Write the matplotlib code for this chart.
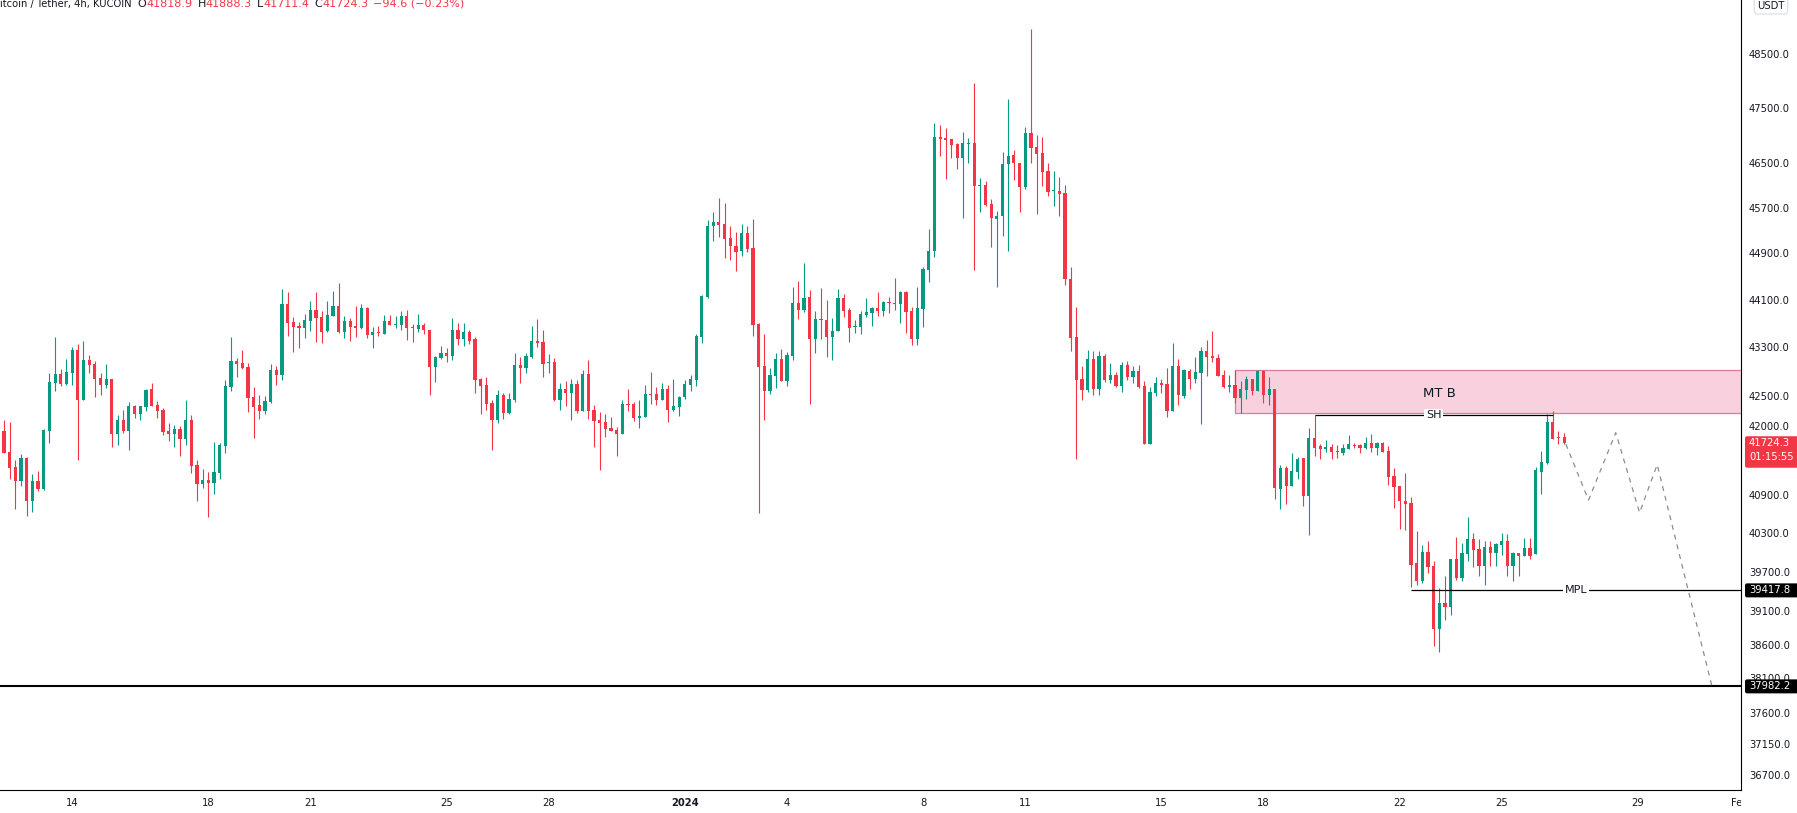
import numpy as np
import pandas as pd
import matplotlib

matplotlib.use("Agg")
import matplotlib.pyplot as plt
import matplotlib.transforms as mtransforms
from matplotlib.patches import Rectangle, FancyBboxPatch
from matplotlib.ticker import FixedLocator, FixedFormatter, NullLocator

# ── Data: BTC/USDT 4h candles (KuCoin), first bar = 2023-12-11 20:00 ──
start = pd.Timestamp("2023-12-11 20:00")

opens = [
    41732, 41921, 41581, 41341, 41123, 41486, 40802, 41118, 40993, 41921,
    42712, 42856, 42690, 42878, 43255, 42431, 43089, 43022, 42789, 42680,
    42773, 41877, 42099, 41921, 42327, 42201, 42316, 42610, 42343, 42260,
    41921, 41877, 41953, 41797, 42099, 41374, 41076, 41134, 41092, 41251,
    41683, 42640, 43072, 43039, 42972, 42476, 42343, 42249, 42399, 42922,
    42839, 44033, 43726, 43657, 43630, 43748, 43926, 43809, 43580, 43831,
    43993, 43564, 43742, 43657, 43630, 43959, 43513, 43564, 43530, 43742,
    43681, 43681, 43826, 43647, 43614, 43675, 43597, 42977, 43128, 43205,
    43155, 43597, 43447, 43564, 43447, 42773, 42674, 42376, 42099, 42510,
    42212, 42427, 43005, 42961, 43139, 43413, 43397, 43044, 43055, 42431,
    42610, 42543, 42690, 42249, 42856, 42260, 42099, 42066, 41970, 41943,
    41877, 42360, 42360, 42131, 42148, 42527, 42527, 42427, 42610, 42260,
    42310, 42476, 42674, 42756, 43474, 44151, 45378, 45449, 45414, 45171,
    45033, 44934, 45256, 44998, 43692, 42989, 42582, 42828, 43105, 42739,
    43161, 44050, 43937, 44151, 43447, 43776, 43759, 43480, 43569, 44134,
    43926, 43647, 43647, 43848, 43881, 43959, 43915, 44066, 44050, 44038,
    44238, 43915, 43447, 43948, 44622, 44945, 46974, 46944, 46926, 46837,
    46589, 46848, 46865, 46087, 46100, 45765, 45494, 45546, 46471, 46642,
    46503, 46071, 47047, 46777, 46685, 46354, 45990, 45999, 45955, 44461,
    43474, 42773, 42593, 43105, 42610, 43155, 42756, 42839, 42656, 43005,
    42806, 42905, 42656, 41715, 42543, 42706, 42690, 42249, 42989, 42497,
    42905, 42773, 42878, 43238, 43155, 43122, 42839, 42640, 42674, 42464,
    42593, 42773, 42577, 42905, 42513, 42610, 40996, 41326, 41044, 41267,
    41486, 40884, 41813, 41677, 41630, 41661, 41598, 41566, 41630, 41693,
    41693, 41645, 41725, 41645, 41736, 41598, 41198, 41044, 40807, 40776,
    39830, 39567, 40010, 39798, 38841, 39230, 39158, 39906, 39613, 39980,
    40211, 40052, 39798, 40083, 39995, 40122, 40181, 39798, 39995, 39948,
    40073, 39980, 41267, 41411, 42066, 41824, 41818.9,
]
highs = [
    41950, 42099, 42066, 41454, 41545, 41502, 41230, 41278, 41953, 42872,
    43474, 42938, 43105, 43305, 43355, 43405, 43172, 43072, 42872, 43022,
    42773, 42179, 42260, 42393, 42343, 42327, 42610, 42704, 42410, 42294,
    42045, 42018, 42001, 42427, 42179, 41454, 41310, 41262, 41743, 41727,
    42756, 43474, 43122, 43255, 43039, 42640, 42510, 42493, 43022, 42989,
    44288, 44238, 43813, 43729, 43859, 44082, 44238, 43909, 44082, 44255,
    44393, 43826, 43792, 43993, 44027, 43976, 43642, 43659, 43842, 43842,
    43826, 43909, 43926, 43692, 43859, 43709, 43597, 43155, 43321, 43288,
    43792, 43709, 43709, 43597, 43474, 42789, 42806, 42427, 42593, 42543,
    42543, 43205, 43139, 43205, 43659, 43776, 43597, 43188, 43122, 42706,
    42739, 42773, 42756, 42922, 43089, 42343, 42228, 42196, 42148, 41986,
    42427, 42610, 42393, 42427, 42674, 42889, 42640, 42706, 42674, 42773,
    42493, 42756, 42839, 43525, 44185, 45484, 45626, 45875, 45792, 45378,
    45274, 45414, 45378, 45502, 43709, 43525, 42955, 43205, 43271, 43222,
    44323, 44427, 44738, 44272, 43909, 44306, 44099, 43792, 44288, 44202,
    43959, 43759, 43909, 44134, 43976, 44238, 44088, 44151, 44478, 44255,
    44255, 43976, 44323, 44667, 45326, 47222, 47185, 47132, 46935, 46865,
    47062, 46952, 47955, 46232, 46172, 45854, 45644, 46697, 47660, 46734,
    46503, 47150, 48968, 47012, 46974, 46499, 46354, 46249, 46105, 44667,
    43976, 42989, 43255, 43238, 43238, 43188, 43039, 42889, 43055, 43072,
    42989, 43005, 42739, 42640, 42806, 42773, 42955, 43372, 43105, 42938,
    42938, 43139, 43305, 43422, 43580, 43188, 42922, 42839, 42916, 42739,
    42822, 42773, 42922, 42922, 42806, 42610, 41374, 41358, 41566, 41502,
    41490, 41970, 42179, 41709, 41781, 41709, 41704, 41709, 41861, 41736,
    41709, 41829, 41877, 41741, 41741, 41677, 41321, 41044, 41246, 40870,
    40330, 40118, 40181, 39869, 39448, 39636, 39906, 40242, 40153, 40555,
    40305, 40211, 40181, 40181, 40149, 40305, 40289, 40005, 39995, 40227,
    40227, 41338, 41598, 42196, 42244, 41921, 41888.3,
]
lows = [
    41700, 41560, 41155, 40681, 41044, 40571, 40630, 40961, 40982, 41727,
    42577, 42663, 42680, 42670, 41459, 42431, 42867, 42480, 42513, 42630,
    41667, 41694, 41894, 41619, 42136, 42103, 42249, 42333, 42136, 41862,
    41765, 41667, 41523, 41699, 41251, 40807, 41012, 40555, 40910, 41150,
    41570, 42582, 42806, 42938, 42236, 41813, 42119, 42201, 42382, 42674,
    42756, 43491, 43227, 43294, 43463, 43580, 43396, 43380, 43564, 43831,
    43547, 43463, 43413, 43480, 43614, 43463, 43294, 43497, 43530, 43681,
    43630, 43597, 43430, 43396, 43564, 43530, 42507, 42728, 43111, 43061,
    43094, 43338, 43321, 43355, 42543, 42196, 42260, 41614, 42050, 42115,
    42196, 42393, 42706, 42878, 43128, 43305, 42806, 42872, 42415, 42265,
    42333, 42103, 42217, 42249, 42115, 41667, 41294, 41829, 41926, 41518,
    41877, 42244, 42087, 41970, 42148, 42360, 42343, 42427, 42066, 42244,
    42164, 42443, 42577, 42656, 43372, 44134, 45119, 45189, 44821, 44787,
    44598, 44860, 44917, 43497, 40617, 42099, 42532, 42630, 42739, 42663,
    43094, 43776, 43892, 42366, 43211, 43447, 43139, 43094, 43569, 43809,
    43396, 43547, 43530, 43809, 43664, 43826, 43826, 43881, 43932, 43709,
    43547, 43338, 43338, 43647, 44399, 44832, 46624, 46214, 46589, 46393,
    45511, 46499, 44622, 45632, 45735, 45009, 44330, 45199, 44937, 46197,
    45632, 46031, 46489, 45592, 46087, 45903, 45735, 45546, 44364, 43238,
    41470, 42431, 42560, 42513, 42513, 42728, 42712, 42640, 42560, 42756,
    42712, 42623, 41715, 41715, 42497, 42543, 42153, 42249, 42349, 42464,
    42610, 42712, 42039, 42828, 43061, 42828, 42630, 42560, 42382, 42217,
    42448, 42513, 42577, 42382, 42349, 40838, 40681, 40760, 41044, 41155,
    40728, 40268, 41518, 41470, 41582, 41470, 41486, 41534, 41630, 41645,
    41566, 41630, 41582, 41534, 41582, 41060, 40697, 40362, 40346, 39476,
    39506, 39536, 39676, 38580, 38490, 38976, 39039, 39582, 39567, 39875,
    39783, 39645, 39506, 39798, 39798, 39962, 39645, 39567, 39645, 39948,
    39906, 39980, 40913, 41395, 41797, 41715, 41711.4,
]
closes = [
    41921, 41570, 41330, 41123, 41486, 40802, 41113, 40998, 41937, 42723,
    42856, 42690, 42889, 43255, 42431, 43089, 43010, 42773, 42680, 42773,
    41877, 42099, 41921, 42327, 42201, 42327, 42593, 42333, 42249, 41910,
    41877, 41953, 41797, 42099, 41363, 41076, 41134, 41092, 41262, 41694,
    42656, 43072, 43022, 42955, 42459, 42310, 42249, 42410, 42922, 42839,
    44033, 43709, 43642, 43630, 43759, 43926, 43798, 43564, 43842, 43993,
    43564, 43742, 43647, 43630, 43959, 43513, 43564, 43547, 43742, 43681,
    43692, 43826, 43630, 43630, 43675, 43597, 42977, 43139, 43205, 43155,
    43597, 43447, 43564, 43413, 42756, 42656, 42360, 42099, 42510, 42212,
    42443, 43005, 42955, 43155, 43413, 43380, 43027, 43055, 42427, 42610,
    42543, 42690, 42249, 42856, 42249, 42087, 42054, 41959, 41926, 41877,
    42360, 42343, 42131, 42164, 42527, 42510, 42427, 42610, 42260, 42327,
    42476, 42690, 42773, 43491, 44168, 45378, 45449, 45396, 45154, 45021,
    44917, 45256, 44986, 43681, 42977, 42582, 42839, 43105, 42739, 43172,
    44050, 43937, 44134, 43447, 43776, 43764, 43480, 43580, 44134, 43920,
    43630, 43659, 43859, 43892, 43959, 43915, 44066, 44054, 44038, 44238,
    43898, 43447, 43959, 44633, 44945, 46974, 46926, 46908, 46819, 46589,
    46865, 46865, 46087, 46105, 45752, 45511, 45557, 46480, 46624, 46489,
    46071, 47047, 46764, 46667, 46338, 45972, 46010, 45937, 44461, 43463,
    42756, 42593, 43105, 42610, 43155, 42756, 42839, 42656, 43005, 42806,
    42905, 42640, 41715, 42560, 42712, 42680, 42249, 42989, 42513, 42922,
    42773, 42889, 43238, 43144, 43128, 42828, 42640, 42673, 42464, 42610,
    42773, 42577, 42905, 42513, 42610, 41012, 41326, 41044, 41278, 41470,
    40884, 41813, 41645, 41630, 41661, 41582, 41582, 41645, 41709, 41677,
    41645, 41725, 41645, 41736, 41582, 41190, 41028, 40807, 40760, 39814,
    39567, 40010, 39783, 38841, 39230, 39158, 39906, 39613, 39990, 40211,
    40041, 39798, 40083, 39995, 40133, 40181, 39798, 39995, 39948, 40073,
    39948, 41290, 41422, 42066, 41797, 41813, 41724.3,
]

price_ticks = [48500, 47500, 46500, 45700, 44900, 44100, 43300, 42500, 42000,
               40900, 40300, 39700, 39100, 38600, 38100, 37600, 37150, 36700]
date_ticks = ["2023-12-14", "2023-12-18", "2023-12-21", "2023-12-25", "2023-12-28",
              "2024-01-01", "2024-01-04", "2024-01-08", "2024-01-11", "2024-01-15",
              "2024-01-18", "2024-01-22", "2024-01-25", "2024-01-29", "2024-02-01"]
date_labels = ["14", "18", "21", "25", "28", "2024", "4", "8", "11", "15",
               "18", "22", "25", "29", "Feb"]

# annotations drawn on the chart
zone_start, zone_top, zone_bottom = 218, 42916, 42207   # "MT B" box
sh_start, sh_end = 232, 274                            # swing high line
mpl_start, mpl_level = 249, 39417.8                    # MPL line
support_level = 37982.2
proj_x = [276.3, 280.3, 285.1, 289.3, 292.4, 302.0]   # projected path (bar index)
proj_y = [41710, 40818, 41895, 40619, 41382, 38000]
countdown = "01:15:55"

# ── Style ─────────────────────────────────────────────────
W, H, DPI = 1797, 813, 100
PLOT_R, PLOT_B = 1741, 790          # pixel extent of the pane
BAR_PX = 5.673                      # pixels per 4h bar
UP, DOWN, TXT = "#089981", "#f23645", "#131722"
FS = 7.2
HFS = 8.0                           # header values size

plt.rcParams["font.family"] = ["DejaVu Sans"]

fig = plt.figure(figsize=(W / DPI, H / DPI), dpi=DPI)
ax = fig.add_axes([0, (H - PLOT_B) / H, PLOT_R / W, PLOT_B / H])

o, h, l, c = map(np.asarray, (opens, highs, lows, closes))
x = np.arange(len(c))
cols = np.where(c >= o, UP, DOWN)

x0 = 0.282
xr = x0 + PLOT_R / BAR_PX
ax.set_xlim(x0, xr)
ax.set_yscale("log")
ax.set_ylim(36491, 49521)

# zone behind candles
ax.add_patch(Rectangle((zone_start, zone_bottom), 400, zone_top - zone_bottom,
                       facecolor="#f9d1de", edgecolor="#e07a9c", lw=0.9, zorder=1))
ax.text(254.1, 42541, "MT B", fontsize=9.5, color=TXT, ha="center", va="center", zorder=6)

# candles
ax.vlines(x, l, h, colors=cols, lw=0.8, zorder=3)
body_lo = np.minimum(o, c)
body_h = np.maximum(np.abs(c - o), body_lo * 0.00035)
ax.bar(x, body_h, bottom=body_lo, width=0.57, color=cols, lw=0, zorder=4)

# levels
ax.axhline(support_level, color="black", lw=1.5, zorder=5)
ax.hlines(h[sh_start], sh_start, sh_end, color="black", lw=0.9, zorder=5)
ax.text((sh_start + sh_end) / 2, h[sh_start], "SH", fontsize=8, color=TXT,
        ha="center", va="center", zorder=6,
        bbox=dict(facecolor="white", edgecolor="none", pad=1.2))
ax.hlines(mpl_level, mpl_start, xr, color="black", lw=0.9, zorder=5)
ax.text((mpl_start + xr) / 2, mpl_level, "MPL", fontsize=8, color=TXT,
        ha="center", va="center", zorder=6,
        bbox=dict(facecolor="white", edgecolor="none", pad=1.2))

# projected path
ax.plot(proj_x, proj_y, color="#8a8d95", lw=0.9, ls=(0, (4, 4)), zorder=5)

# axes cosmetics
for s in ("top", "left"):
    ax.spines[s].set_visible(False)
for s in ("right", "bottom"):
    ax.spines[s].set_color("black")
    ax.spines[s].set_linewidth(0.8)

ax.yaxis.tick_right()
ax.yaxis.set_major_locator(FixedLocator(price_ticks))
ax.yaxis.set_major_formatter(FixedFormatter([f"{p:.1f}" for p in price_ticks]))
ax.yaxis.set_minor_locator(NullLocator())
ax.tick_params(axis="y", length=0, pad=5.8, labelsize=FS, labelcolor=TXT)

tick_pos = [(pd.Timestamp(d) - start) / pd.Timedelta(hours=4) for d in date_ticks]
ax.set_xticks(tick_pos)
ax.set_xticklabels(date_labels)
ax.tick_params(axis="x", length=0, pad=6, labelsize=FS, labelcolor=TXT)
clip = mtransforms.Bbox.from_extents(0, 0, PLOT_R, H)
for lbl in ax.get_xticklabels():
    if lbl.get_text() == "2024":
        lbl.set_fontweight("bold")
    lbl.set_clip_box(clip)
    lbl.set_clip_on(True)

# price-scale tags
ident = mtransforms.IdentityTransform()


def tag(price, lines, color, height):
    yc = ax.transData.transform((0, price))[1]
    top = yc + 7
    fig.patches.append(FancyBboxPatch((PLOT_R + 4, top - height), W - PLOT_R, height,
                                      boxstyle="round,pad=0,rounding_size=2",
                                      facecolor=color, edgecolor="none",
                                      transform=ident, figure=fig, zorder=5))
    for k, s in enumerate(lines):
        fig.text((PLOT_R + 8) / W, (yc - 13.5 * k) / H, s, color="white",
                 fontsize=FS, va="center", ha="left", zorder=6)


tag(closes[-1], [f"{closes[-1]:.1f}", countdown], DOWN, 31.5)
tag(mpl_level, [f"{mpl_level:.1f}"], "black", 14)
tag(support_level, [f"{support_level:.1f}"], "black", 14)

fig.text((PLOT_R + 30) / W, 1 - 6 / H, "USDT", fontsize=FS, color=TXT,
         ha="center", va="center",
         bbox=dict(boxstyle="round,pad=0.3", facecolor="white", edgecolor="#e0e3eb"))

# header legend, laid out left to right
hdr_y = 1 - 4 / H
fig.canvas.draw()
rend = fig.canvas.get_renderer()


def put(px, s, color, size):
    t = fig.text(px / W, hdr_y, s, fontsize=size, color=color, va="center")
    return px + t.get_window_extent(rend).width


chg = closes[-1] - opens[-1]
px = put(-7, "Bitcoin / Tether, 4h, KUCOIN", TXT, FS) + 6
for key, val in (("O", opens[-1]), ("H", highs[-1]), ("L", lows[-1]), ("C", closes[-1])):
    px = put(px, key, TXT, HFS)
    px = put(px, f"{val:.1f}", DOWN, HFS) + 5
put(px, f"\u2212{abs(chg):.1f} (\u2212{abs(chg) / opens[-1] * 100:.2f}%)", DOWN, HFS)

fig.savefig("out.png", dpi=DPI, facecolor="white")
